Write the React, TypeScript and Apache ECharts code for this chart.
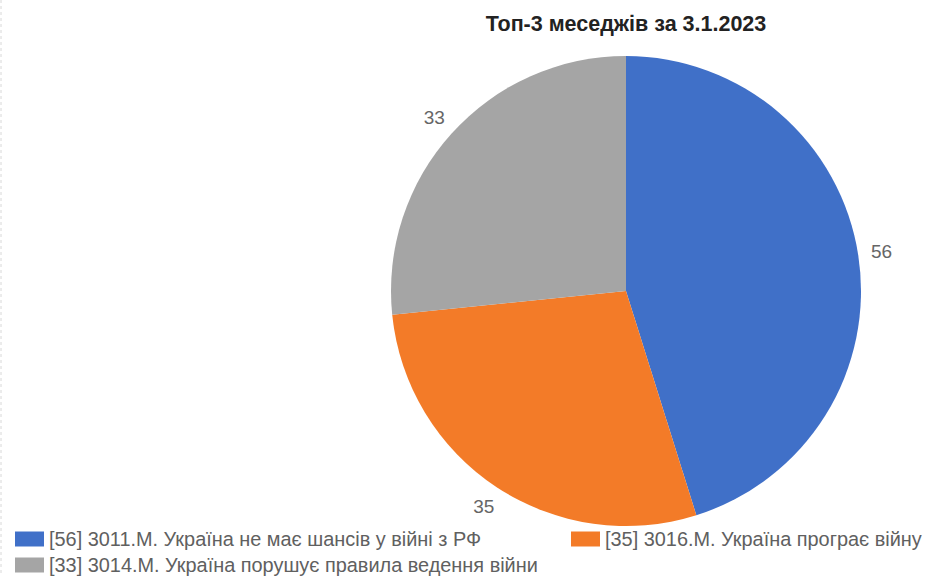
import React, { useEffect, useRef } from "react";
import * as echarts from "echarts";

const titleText = "Топ-3 меседжів за 3.1.2023";
const names = [
  "3011.М. Україна не має шансів у війні з РФ",
  "3016.М. Україна програє війну",
  "3014.М. Україна порушує правила ведення війни",
];
const values = [56, 35, 33];
const colors = ["#4070C8", "#F37B28", "#A5A5A5"];

const FONT = "'Liberation Sans', Arial, sans-serif";

export default function App() {
  const ref = useRef<HTMLDivElement>(null);
  useEffect(() => {
    const chart = echarts.init(ref.current!, null, { renderer: "svg" });
    const labels = names.map((n, i) => `[${values[i]}] ${n}`);
    const data = labels.map((l, i) => ({ name: l, value: values[i], itemStyle: { color: colors[i] } }));
    const legendItem = (i: number) => ({ name: labels[i], itemStyle: { color: colors[i] } });
    const legendCommon = {
      orient: "horizontal",
      padding: 0,
      itemWidth: 29,
      itemHeight: 15,
      itemTextGap: 10,
      icon: "rect",
      selectedMode: false,
      textStyle: { fontSize: 19.9, color: "#606060", fontFamily: FONT },
    };
    chart.setOption({
      animation: false,
      title: {
        text: titleText,
        left: 621,
        textAlign: "center",
        top: 8,
        textStyle: { fontSize: 21.5, fontWeight: "bold", color: "#222", fontFamily: FONT },
      },
      legend: [
        { ...legendCommon, left: 15, top: 529, data: [legendItem(0)] },
        { ...legendCommon, left: 571, top: 529, data: [legendItem(1)] },
        { ...legendCommon, left: 15, top: 555, data: [legendItem(2)] },
      ],
      graphic: [
        {
          type: "line",
          shape: { x1: 1, y1: 0, x2: 1, y2: 576 },
          style: { stroke: "#d8d8d8", lineWidth: 1, lineDash: [3, 3] },
        },
      ],
      series: [
        {
          type: "pie",
          center: [626, 291],
          radius: [0, 235],
          startAngle: 90,
          clockwise: true,
          data,
          label: { show: false },
          labelLine: { show: false },
          emphasis: { disabled: true },
          silent: true,
        },
        {
          type: "pie",
          center: [626, 291],
          radius: [235, 276],
          startAngle: 90,
          clockwise: true,
          data: labels.map((l, i) => ({ name: l, value: values[i] })),
          itemStyle: { color: "transparent" },
          label: {
            show: true,
            position: "inside",
            formatter: "{c}",
            fontSize: 19,
            color: "#666",
            fontFamily: FONT,
          },
          labelLine: { show: false },
          emphasis: { disabled: true },
          silent: true,
        },
      ],
    });
    return () => chart.dispose();
  }, []);
  return (
    <div
      ref={ref}
      style={{ position: "absolute", left: 0, top: 0, width: 929, height: 576, background: "#fff" }}
    />
  );
}
